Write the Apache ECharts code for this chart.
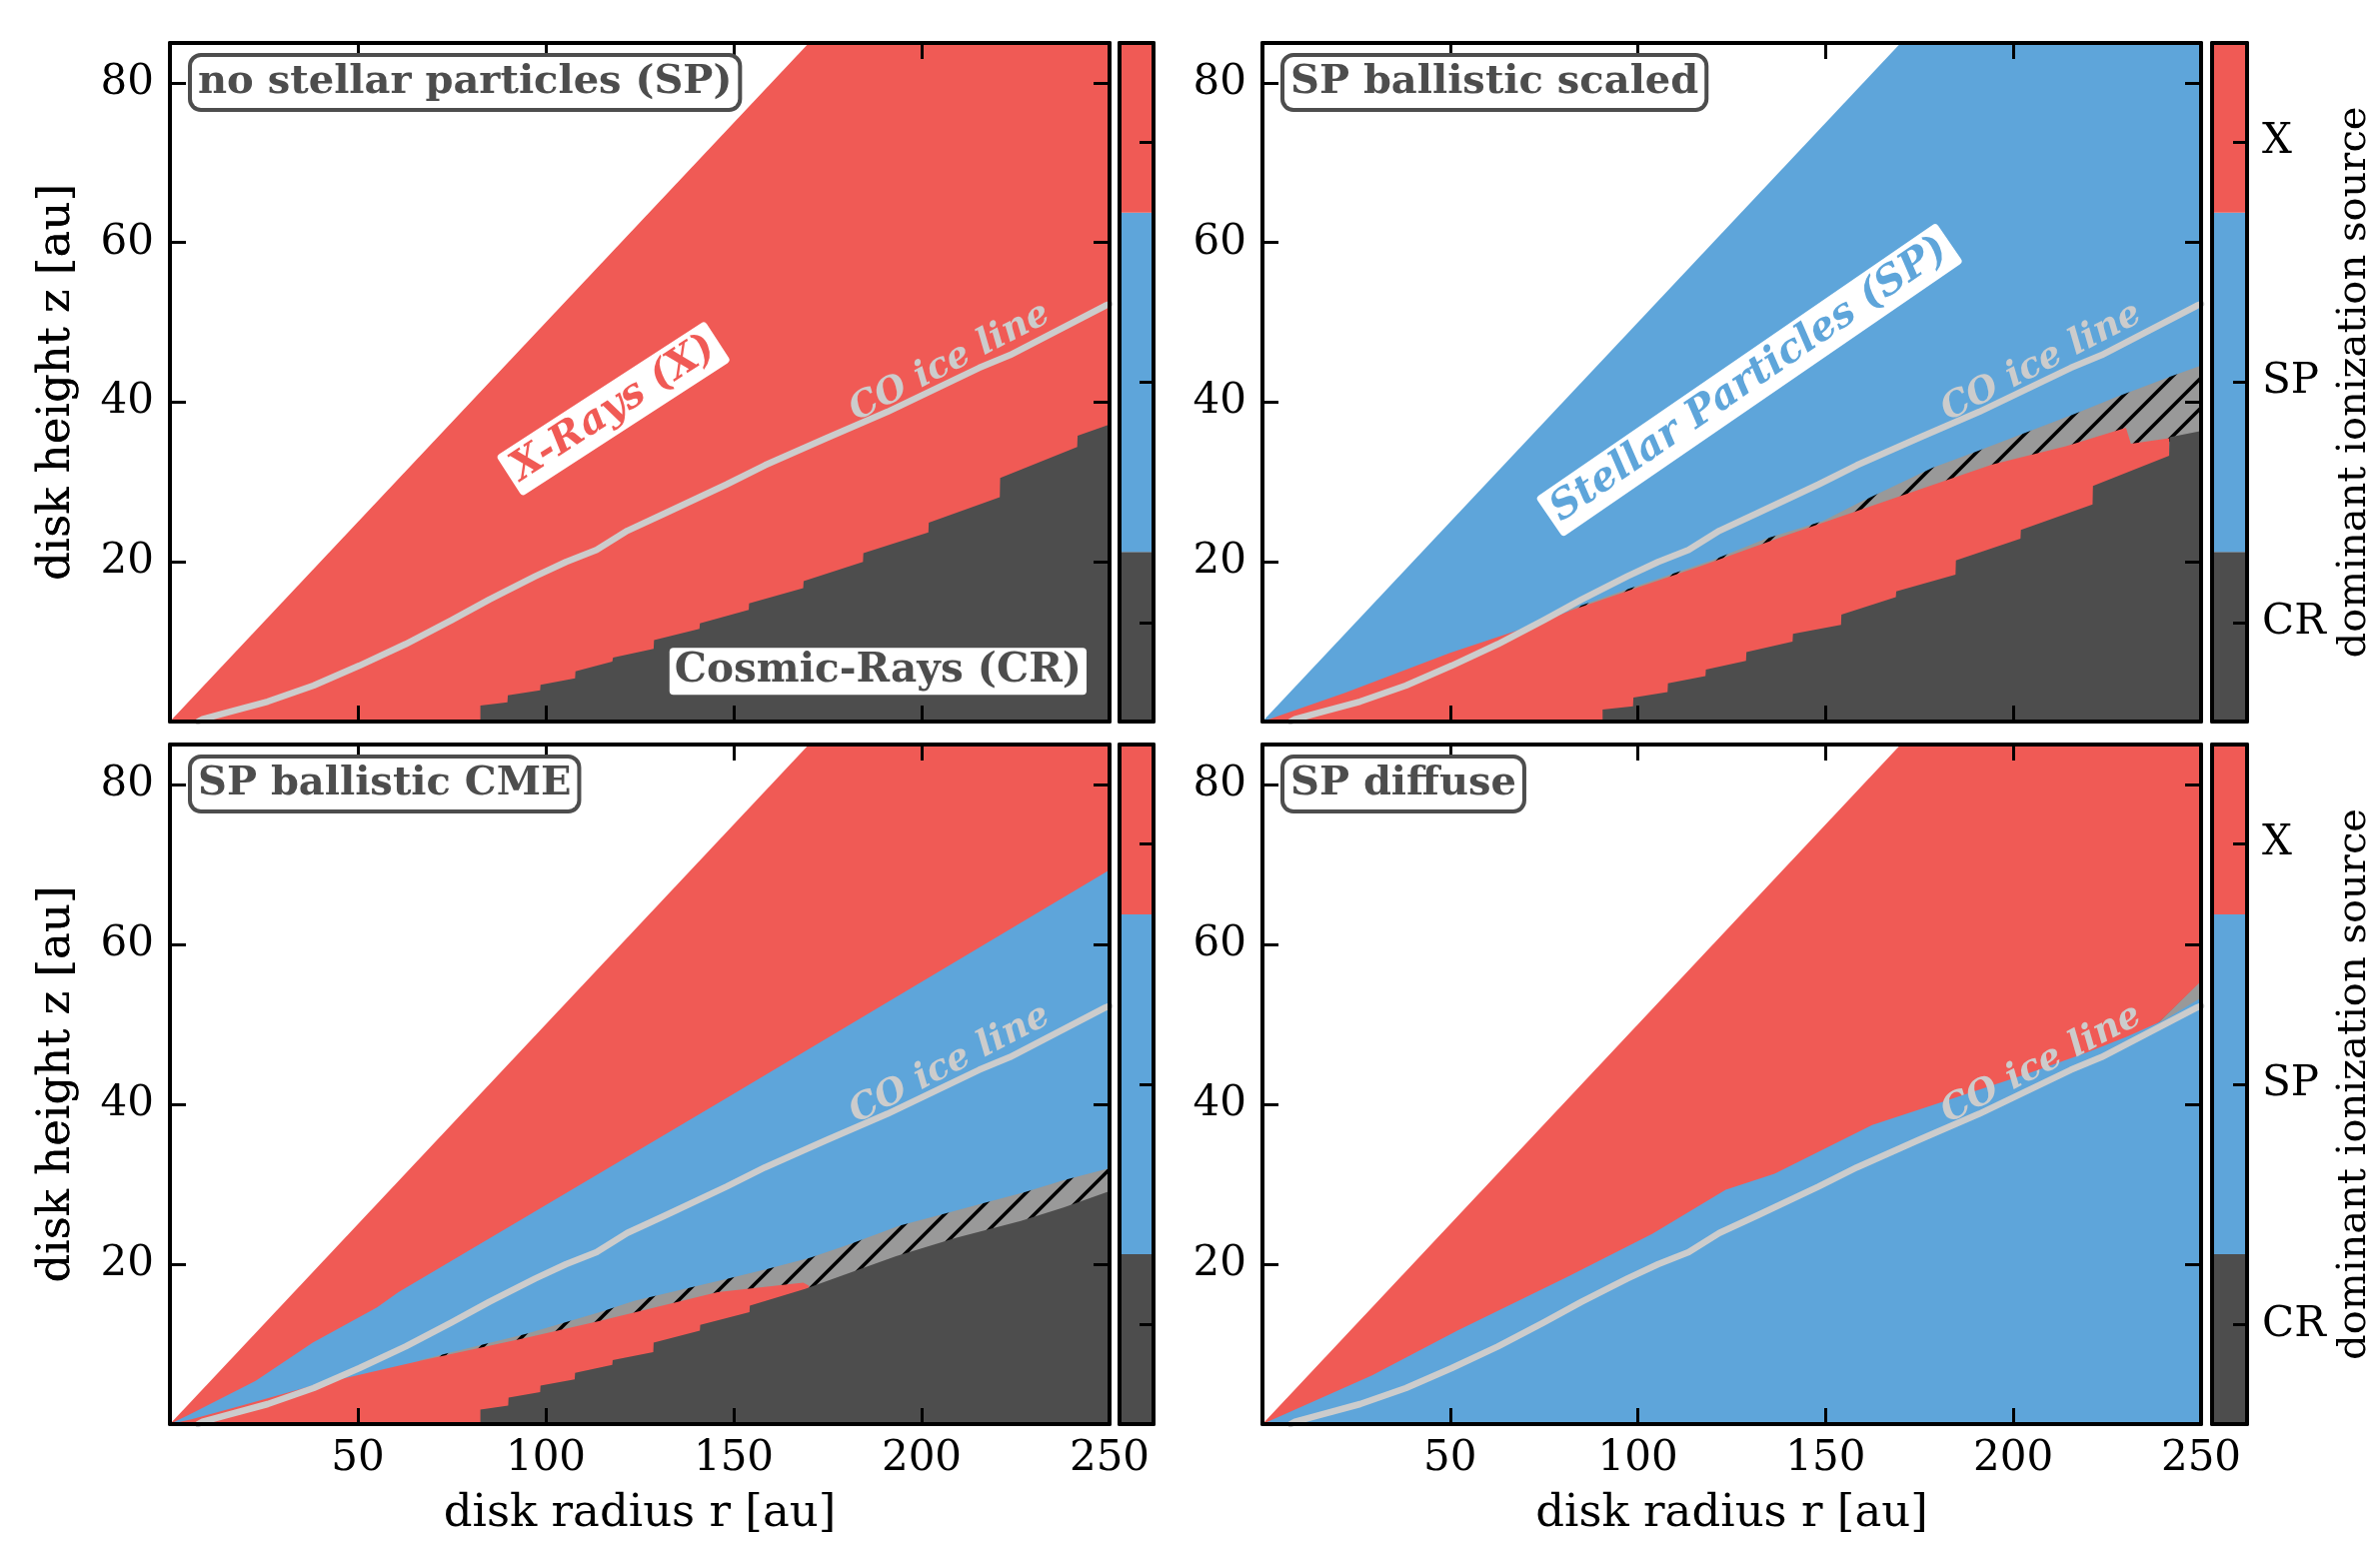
<!DOCTYPE html>
<html><head><meta charset="utf-8">
<script src="https://cdn.jsdelivr.net/npm/echarts@6/dist/echarts.min.js"></script>
<style>html,body{margin:0;padding:0;background:#fff}#c{width:2381px;height:1548px}</style>
</head><body><div id="c"></div><script>
// ---------------- DATA ----------------
const panelTitles = ['no stellar particles (SP)', 'SP ballistic scaled', 'SP ballistic CME', 'SP diffuse'];
const cbLabels = ['CR', 'SP', 'X'];
const cbTickPos = [0.146, 0.5, 0.854];
const cbBandEdges = [0, 0.25, 0.75, 1.0];

// upper edge of the disk model (z = r/2)
const surfR = [0, 170, 250];
const surfZ = [0, 85, 85];

// CO ice line (same in all panels)
const iceR = [7.5, 8.7, 15.8, 26.0, 38.2, 50.4, 62.7, 74.9, 85.0, 97.2, 105.4, 113.5, 121.7, 131.8, 148.1, 158.3, 174.6, 190.9, 215.3, 223.5, 248.9, 250];
const iceZ = [0, 0.3, 1.2, 2.5, 4.5, 7.0, 9.7, 12.7, 15.3, 18.2, 20.0, 21.5, 23.9, 26.1, 29.7, 32.1, 35.5, 38.8, 44.3, 45.9, 52.1, 52.3];

// Panel A: no stellar particles
const crA_R = [82.6, 82.6, 89.8, 89.9, 98.5, 98.6, 107.8, 107.9, 117.7, 117.9, 128.7, 128.8, 140.9, 141.0, 154.0, 154.1, 168.5, 168.6, 184.4, 184.5, 201.8, 201.9, 220.8, 220.9, 241.4, 241.5, 250];
const crA_Z = [0, 2.0, 2.4, 3.3, 3.9, 4.6, 5.4, 6.3, 7.5, 8.0, 9.1, 10.2, 11.6, 12.3, 14.0, 14.8, 16.7, 17.6, 20.0, 21.1, 23.7, 24.9, 28.1, 30.5, 34.4, 35.8, 37.2];

// Panel B: SP ballistic scaled
const redB_R = [0, 22, 50, 73, 82, 100, 116.3, 140, 169.6, 194.4, 214, 230, 231.3, 241.5, 241.6];
const redB_Z = [0, 3.6, 8.6, 12.2, 13.9, 16.8, 19.4, 23.4, 28.2, 32.2, 34.5, 36.8, 34.8, 35.5, 0];
const hatB_R = [79, 81.6, 94.2, 120.4, 134.1, 149.2, 158.9, 178.5, 190, 216.6, 227.6, 242.4, 250];
const hatB_Z = [0, 14.0, 16.1, 20.3, 22.9, 25.1, 27.4, 31.8, 33.8, 38.6, 40.7, 43.3, 44.6];
const crB_R = [90.6, 90.6, 98.7, 98.8, 107.9, 108.0, 118.0, 118.1, 128.8, 128.9, 141.2, 141.3, 154.1, 154.2, 168.7, 168.8, 184.6, 184.7, 201.9, 202.0, 221.1, 221.2, 241.5, 241.6, 250];
const crB_Z = [0, 1.5, 1.9, 3.0, 3.7, 4.8, 5.7, 6.5, 7.6, 8.7, 10.0, 11.0, 12.1, 13.4, 15.6, 16.3, 18.4, 20.2, 22.9, 24.0, 27.2, 29.5, 33.3, 35.6, 36.4];

// Panel C: SP ballistic CME
const blueC_R = [0, 5.7, 22.8, 38, 55.1, 60.8, 95, 148.9, 200, 250];
const blueC_Z = [0, 1.3, 5.4, 10.2, 14.6, 16.5, 26.0, 41.0, 55.3, 69.3];
const hatC_R = [60, 66.5, 95, 114.4, 123.5, 147.6, 159, 170.4, 180.9, 194.1, 205.6, 216.9, 227.4, 237.8, 249.2, 250];
const hatC_Z = [0, 8.0, 11.3, 14.0, 15.4, 18.1, 19.4, 20.8, 22.5, 24.8, 26.25, 27.7, 29.0, 30.5, 31.9, 32.0];
const red2C_R = [0, 5.7, 18.1, 38, 66.5, 95, 114.4, 145.7, 168.5, 170, 170.1];
const red2C_Z = [0, 0.6, 2.2, 4.8, 7.9, 10.8, 12.9, 16.5, 17.7, 17.3, 0];
const crC_R = [82.6, 82.6, 90.0, 90.1, 98.5, 98.6, 107.7, 107.8, 117.7, 117.8, 128.6, 128.7, 141.0, 141.1, 154.2, 154.3, 169, 176, 193.2, 209.3, 226.4, 237.8, 249.2, 250];
const crC_Z = [0, 1.8, 2.3, 3.3, 4.0, 4.8, 5.6, 6.4, 7.4, 8.0, 9.0, 10.2, 11.7, 12.4, 14.0, 14.8, 16.9, 18.1, 21.0, 23.3, 25.4, 27.1, 29.0, 29.1];

// Panel D: SP diffuse
const blueD_R = [0, 29.2, 51.9, 81.2, 103.9, 123.4, 136.4, 162.4, 178.6, 202.9, 219.2, 230, 240, 250];
const blueD_Z = [0, 6.1, 11.7, 18.4, 23.8, 29.3, 31.3, 37.4, 39.9, 43.7, 46.4, 48.4, 50.5, 53.3];
const hatD_R = [237.5, 238, 250];
const hatD_Z = [0, 49.9, 55.4];

// annotation anchors (data coords r, z)
const annXRays = [118, 39.2];
const annCR = [188.4, 6.3];
const annSP = [129.7, 42.8];
const annIce = [207.5, 45.0];

// ---------------- STYLE ----------------
const FONT = 'DejaVu Serif';
const C_RED = '#f05a55', C_BLUE = '#5ea5da', C_DARK = '#4d4d4d', C_HATCH = '#999999', C_ICE = '#cccccc';
const panelBoxes = [[170, 43, 940, 679], [1263, 43, 939, 679], [170, 745, 940, 680], [1263, 745, 939, 680]];
const cbBoxes = [[1120, 43, 34, 679], [2213, 43, 35, 679], [1120, 745, 34, 680], [2213, 745, 35, 680]];

function hatchCanvas() {
  const s = 30;
  const c = document.createElement('canvas');
  c.width = s; c.height = s;
  const g = c.getContext('2d');
  g.fillStyle = C_HATCH; g.fillRect(0, 0, s, s);
  g.strokeStyle = '#000'; g.lineWidth = 3.5; g.lineCap = 'square';
  g.beginPath();
  g.moveTo(-s, s); g.lineTo(s, -s);
  g.moveTo(0, s); g.lineTo(s, 0);
  g.moveTo(0, 2 * s); g.lineTo(2 * s, 0);
  g.stroke();
  return c;
}
const HATCH = { image: hatchCanvas(), repeat: 'repeat' };

const zip = (R, Z) => R.map((r, i) => [r, Z[i]]);

const panelLayers = [
  [[surfR, surfZ, C_RED], [crA_R, crA_Z, C_DARK]],
  [[surfR, surfZ, C_BLUE], [hatB_R, hatB_Z, HATCH], [redB_R, redB_Z, C_RED], [crB_R, crB_Z, C_DARK]],
  [[surfR, surfZ, C_RED], [blueC_R, blueC_Z, C_BLUE], [hatC_R, hatC_Z, HATCH], [red2C_R, red2C_Z, C_RED], [crC_R, crC_Z, C_DARK]],
  [[surfR, surfZ, C_RED], [hatD_R, hatD_Z, HATCH], [blueD_R, blueD_Z, C_BLUE]]
];

const grids = [], xAxes = [], yAxes = [], series = [];
const axLine = { show: true, onZero: false, lineStyle: { color: '#000', width: 4 } };
const tickSt = { show: true, inside: true, length: 16, lineStyle: { color: '#000', width: 3 } };
const lblSt = { fontFamily: FONT, fontSize: 42, color: '#000' };

panelBoxes.forEach((b, p) => {
  grids.push({ left: b[0], top: b[1], width: b[2], height: b[3] });
  ['bottom', 'top'].forEach((pos, k) => {
    xAxes.push({
      gridIndex: p, type: 'value', position: pos, min: 0, max: 250, interval: 50, z: 10,
      axisLine: axLine, axisTick: tickSt, splitLine: { show: false },
      axisLabel: Object.assign({ show: k === 0 && p >= 2, margin: 14, formatter: v => v === 0 ? '' : String(v) }, lblSt)
    });
  });
  ['left', 'right'].forEach((pos, k) => {
    yAxes.push({
      gridIndex: p, type: 'value', position: pos, min: 0, max: 85, interval: 20, z: 10,
      axisLine: axLine, axisTick: tickSt, splitLine: { show: false },
      axisLabel: Object.assign({ show: k === 0, margin: 16, formatter: v => (v === 0 || v === 85) ? '' : String(v) }, lblSt)
    });
  });
  panelLayers[p].forEach((L, li) => {
    series.push({
      type: 'line', xAxisIndex: 2 * p, yAxisIndex: 2 * p, data: zip(L[0], L[1]),
      symbol: 'none', silent: true, z: 2 + li * 0.01, animation: false,
      lineStyle: { width: 0, opacity: 0 }, areaStyle: { color: L[2], opacity: 1 }
    });
  });
  series.push({
    type: 'line', xAxisIndex: 2 * p, yAxisIndex: 2 * p, data: zip(iceR, iceZ),
    symbol: 'none', silent: true, z: 5, smooth: false,
    lineStyle: { width: 6.5, color: C_ICE, cap: 'round', join: 'round' }
  });
});

cbBoxes.forEach((b, c) => {
  const gi = 4 + c;
  grids.push({ left: b[0], top: b[1], width: b[2], height: b[3] });
  ['bottom', 'top'].forEach(pos => {
    xAxes.push({ gridIndex: gi, type: 'category', data: ['cb'], position: pos, z: 10,
      axisLine: axLine, axisTick: { show: false }, axisLabel: { show: false }, splitLine: { show: false } });
  });
  yAxes.push({ gridIndex: gi, type: 'value', position: 'left', min: 0, max: 1, z: 10,
    axisLine: axLine, axisTick: { show: false }, axisLabel: { show: false }, splitLine: { show: false } });
  yAxes.push({ gridIndex: gi, type: 'value', position: 'right', min: 0, max: 1, z: 10,
    axisLine: axLine, splitLine: { show: false },
    axisTick: { show: true, inside: true, length: 14, customValues: cbTickPos, lineStyle: { color: '#000', width: 3 } },
    axisLabel: Object.assign({ show: c % 2 === 1, margin: 15, customValues: cbTickPos,
      formatter: v => { const i = cbTickPos.findIndex(t => Math.abs(t - v) < 1e-6); return i >= 0 ? cbLabels[i] : ''; } }, lblSt) });
  const cols = [C_DARK, C_BLUE, C_RED];
  for (let k = 0; k < 3; k++) {
    series.push({ type: 'bar', xAxisIndex: 8 + 2 * c, yAxisIndex: 8 + 2 * c, stack: 'cb' + c,
      barWidth: '100%', silent: true, data: [cbBandEdges[k + 1] - cbBandEdges[k]],
      itemStyle: { color: cols[k] } });
  }
});

const chart = echarts.init(document.getElementById('c'), null, { renderer: 'canvas' });
chart.setOption({ animation: false, backgroundColor: '#fff', grid: grids, xAxis: xAxes, yAxis: yAxes, series: series });

// ---------------- ANNOTATIONS ----------------
const deg = a => a * Math.PI / 180;
const px = (p, rz) => chart.convertToPixel({ gridIndex: p }, rz);
const g = [];
const txt = (x, y, text, o) => Object.assign({ type: 'text', x: x, y: y, z: 100,
  style: Object.assign({ text: text, fontFamily: FONT, fontSize: 42, fill: '#000', align: 'center', verticalAlign: 'middle' }, o.style || {}) },
  o.el || {});

panelBoxes.forEach((b, p) => {
  // panel label
  g.push(txt(b[0] + 22, b[1] + 14, panelTitles[p], { style: { align: 'left', verticalAlign: 'top', fontWeight: 'bold', fill: C_DARK, fontSize: 40,
    backgroundColor: '#fff', borderColor: C_DARK, borderWidth: 4, borderRadius: 9, padding: [6, 6, 5, 6] } }));
  // ice line label
  const ip = px(p, annIce);
  g.push(txt(ip[0], ip[1], 'CO ice line', { el: { rotation: deg(27.3) },
    style: { fontWeight: 'bold', fontStyle: 'italic', fill: C_ICE, fontSize: 36 } }));
  // y axis title
  g.push(txt(57, b[1] + b[3] / 2, 'disk height z [au]', { el: { rotation: deg(90) }, style: { fontSize: 45 } }));
  if (p >= 2) g.push(txt(b[0] + b[2] / 2, 1515, 'disk radius r [au]', { style: { fontSize: 45 } }));
});
cbBoxes.forEach((b, c) => {
  if (c % 2 === 1) g.push(txt(2356, b[1] + b[3] / 2, 'dominant ionization source', { el: { rotation: deg(90) }, style: { fontSize: 40 } }));
});
let q = px(0, annXRays);
g.push(txt(q[0], q[1], 'X-Rays (X)', { el: { rotation: deg(33) },
  style: { fontWeight: 'bold', fontStyle: 'italic', fill: C_RED, fontSize: 40, backgroundColor: '#fff', padding: [4, 7], borderRadius: 4 } }));
q = px(0, annCR);
g.push(txt(q[0], q[1], 'Cosmic-Rays (CR)', {
  style: { fontWeight: 'bold', fill: C_DARK, fontSize: 40.5, backgroundColor: '#fff', padding: [3, 5], borderRadius: 4 } }));
q = px(1, annSP);
g.push(txt(q[0], q[1], 'Stellar Particles (SP)', { el: { rotation: deg(34.5) },
  style: { fontWeight: 'bold', fontStyle: 'italic', fill: C_BLUE, fontSize: 40, backgroundColor: '#fff', padding: [4, 7], borderRadius: 4 } }));
// descender of the cropped figure title at the very top edge
g.push(txt(1676, -31, 'g', { style: { fontSize: 50, verticalAlign: 'bottom' } }));

chart.setOption({ graphic: { elements: g } });
</script></body></html>
